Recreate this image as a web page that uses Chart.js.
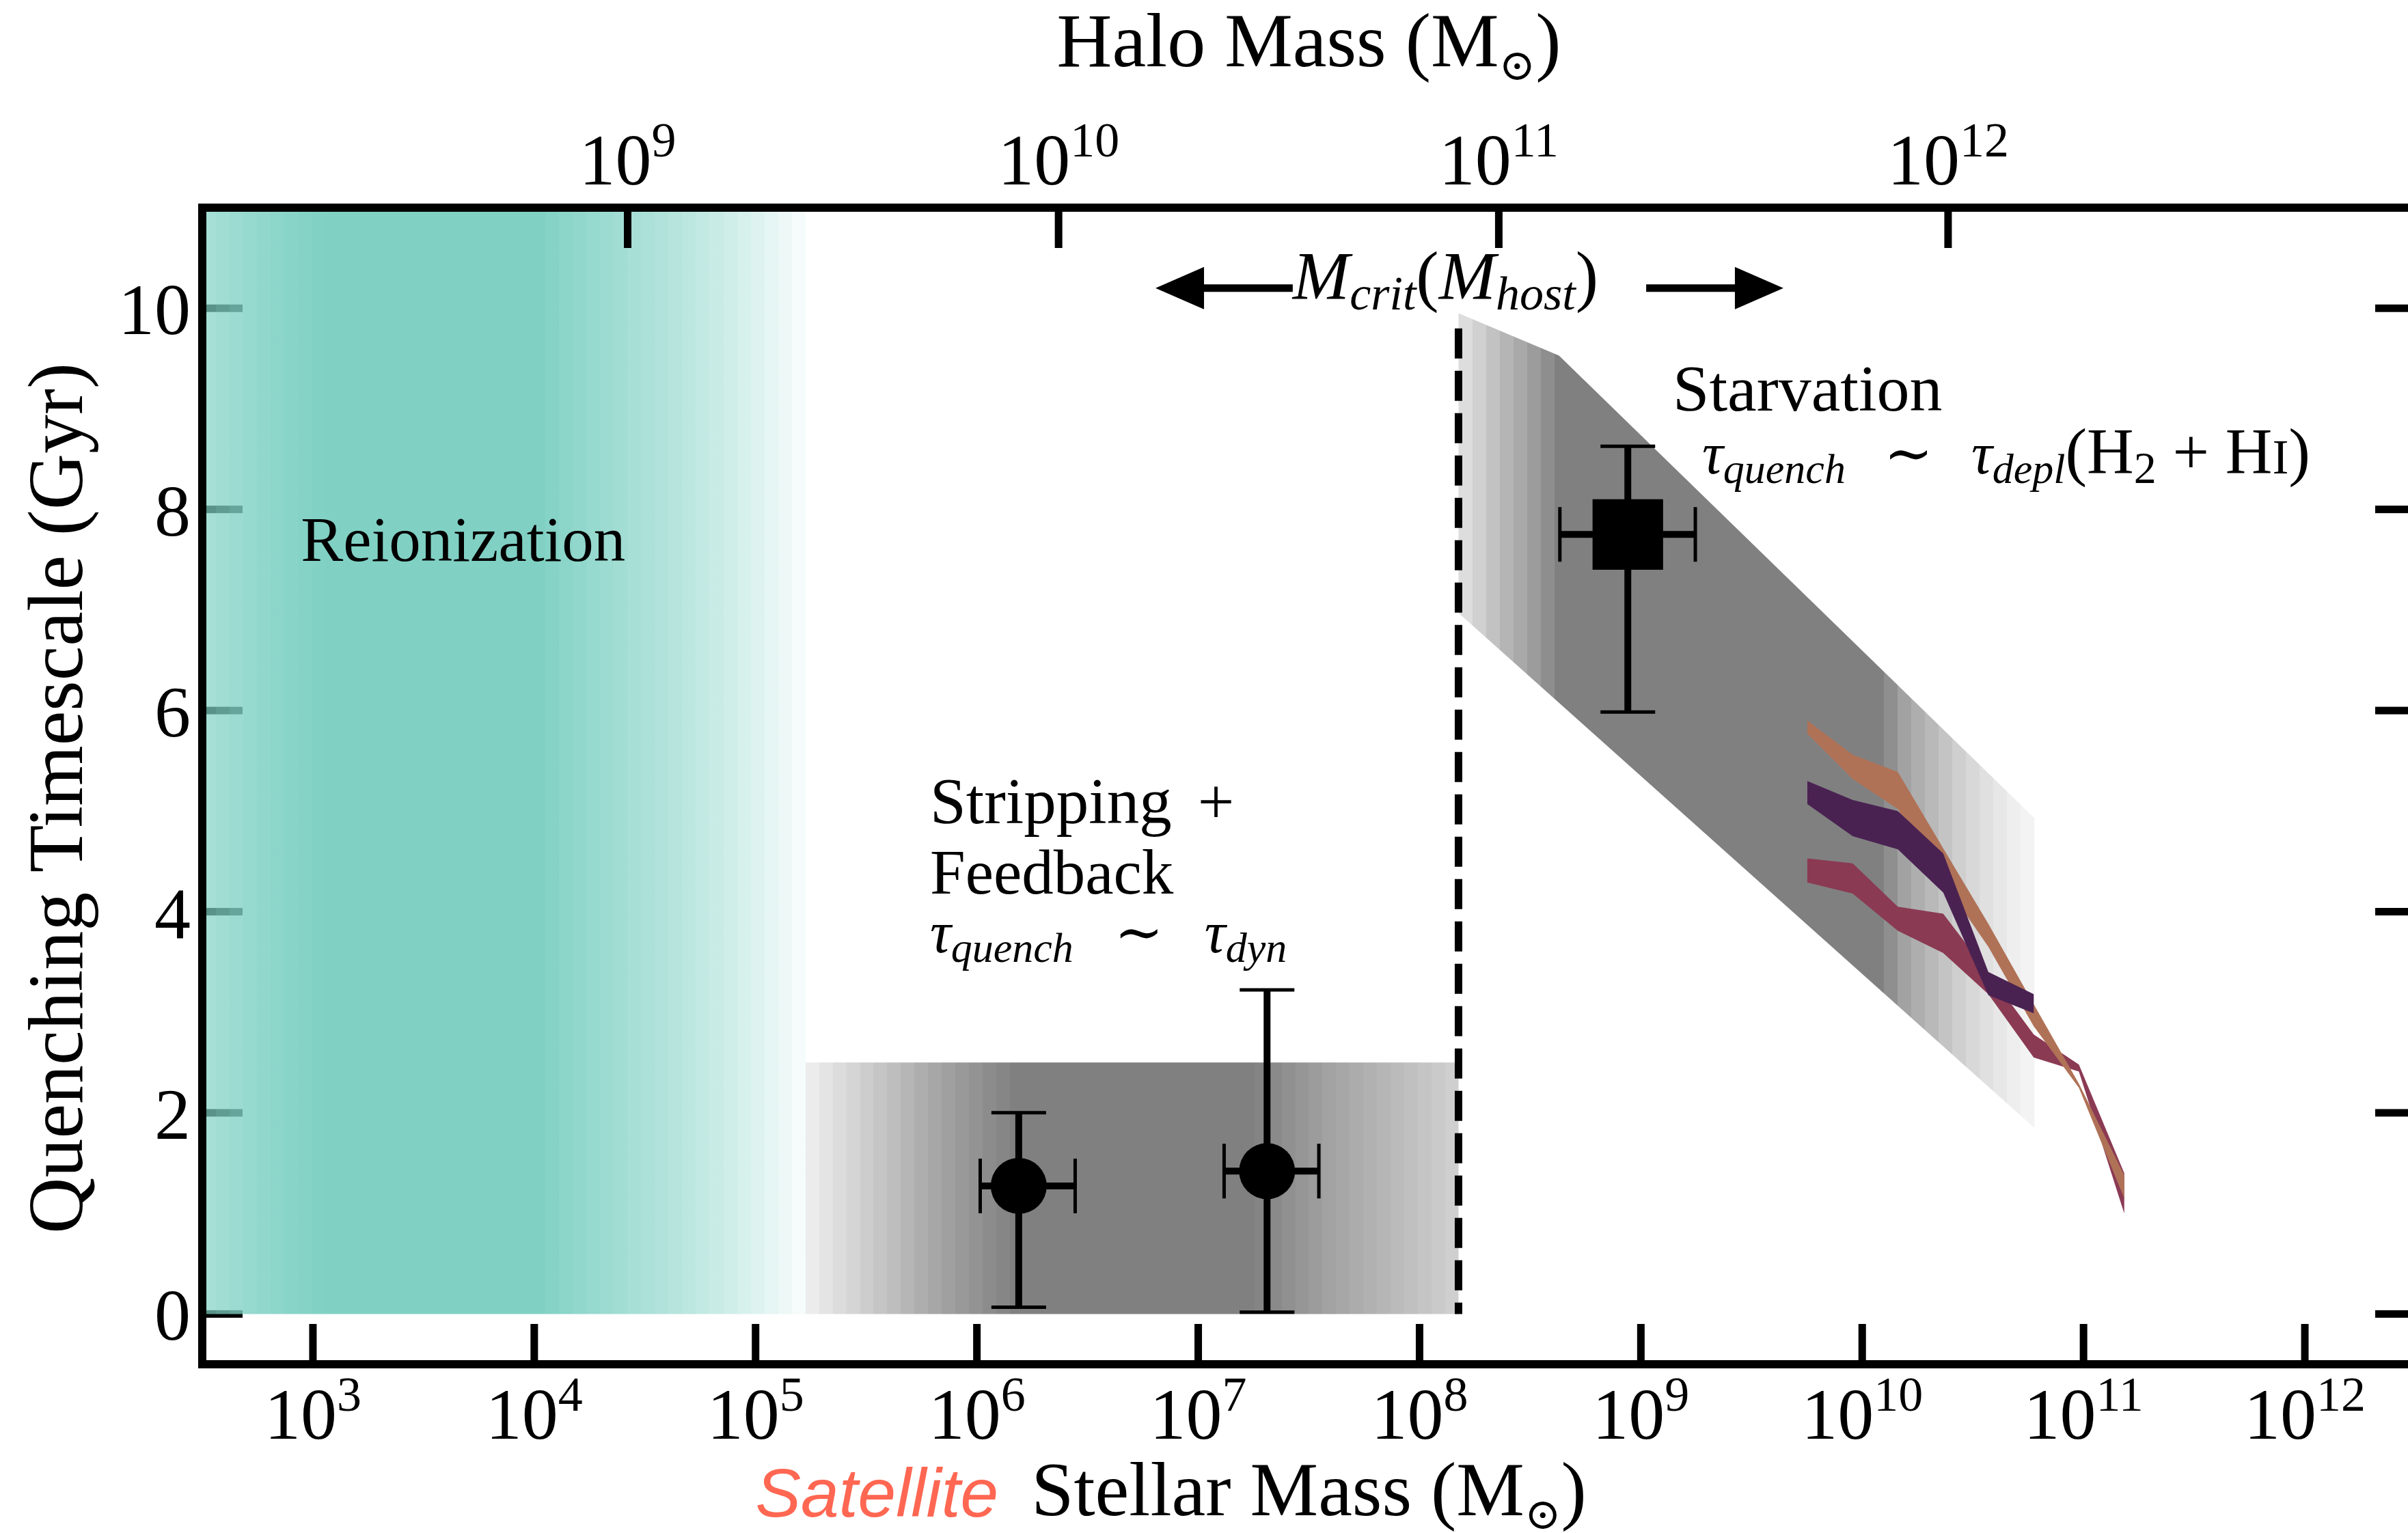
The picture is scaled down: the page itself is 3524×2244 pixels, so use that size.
<!DOCTYPE html>
<html>
<head>
<meta charset="utf-8">
<title>Quenching timescale vs satellite stellar mass</title>
<script src="https://cdn.jsdelivr.net/npm/chart.js@4.4.1/dist/chart.umd.min.js"></script>
<style>
  html, body { margin: 0; padding: 0; background: #fff; overflow: hidden; }
  #frame { width: 3524px; height: 2244px; overflow: hidden; position: relative; background: #fff; }
  #chart { display: block; }
</style>
</head>
<body>
<div id="frame"><canvas id="chart" width="3600" height="2244" style="width:3600px;height:2244px"></canvas></div>
<script>
// ---------------- data ----------------
// axis ticks
const stellarTickExp = [3, 4, 5, 6, 7, 8, 9, 10, 11, 12];
const timescaleTicks = [0, 2, 4, 6, 8, 10];
// halo-mass ticks on the top axis and the log stellar mass each one maps to
const haloTickExp = [9, 10, 11, 12];
const haloTickLogMstar = [4.422, 6.369, 8.358, 10.388];

// quenching regimes (log10 stellar mass, Gyr)
const reionizationLogM = [2.5, 5.226];
const strippingLogM = [5.226, 8.176];
const strippingTau = [0, 2.5];
const critLogM = 8.176;
const critLineTau = [9.8, 0];

const starvationUpperLogM = [8.176, 8.630, 10.778];
const starvationUpperTau = [9.95, 9.53, 4.93];
const starvationLowerLogM = [8.176, 10.778];
const starvationLowerTau = [6.97, 1.85];

// model quenching-timescale bands
const bandLogM = [9.752, 9.957, 10.161, 10.366, 10.570, 10.775, 10.979, 11.184];
const orangeHi = [5.90, 5.56, 5.39, 4.63, 3.88, 3.08, 2.29, 1.38];
const orangeLo = [5.77, 5.32, 5.02, 4.30, 3.65, 2.86, 2.25, 1.15];
const purpleHi = [5.30, 5.11, 5.00, 4.58, 3.40, 3.18];
const purpleLo = [5.07, 4.75, 4.62, 4.19, 3.17, 2.99];
const crimsonHi = [4.53, 4.48, 4.05, 3.98, 3.39, 2.78, 2.48, 1.40];
const crimsonLo = [4.29, 4.18, 3.81, 3.59, 3.18, 2.55, 2.41, 1.00];

// observed satellite populations
const obsMarker = ['circle', 'circle', 'square'];
const obsLogM   = [6.189, 7.311, 8.941];
const obsLogMLo = [6.015, 7.117, 8.634];
const obsLogMHi = [6.444, 7.545, 9.246];
const obsTau    = [1.273, 1.420, 7.751];
const obsTauLo  = [0.067, 0.018, 5.985];
const obsTauHi  = [2.002, 3.223, 8.627];

// ---------------- styling ----------------
const SERIF = '"Liberation Serif", "DejaVu Serif", serif';
const SANS = '"Liberation Sans", "DejaVu Sans", sans-serif';
const font = (size, style) => (style ? style + ' ' : '') + size + 'px ' + SERIF;

const X_MIN = Math.pow(10, 2.5), X_MAX = Math.pow(10, 12.5);
const Y_MIN = -0.5, Y_MAX = 11;
const TICK_LEN = 59, TICK_W = 11, SPINE_W = 12;

// colour ramps along log stellar mass
const tealAlphaStops = [[2.5, 0.68], [2.7, 0.82], [2.9, 0.93], [3.04, 1], [4.02, 1], [4.42, 0.71],
                        [4.61, 0.6], [4.81, 0.44], [5.01, 0.26], [5.226, 0.05]];
const strippingGrey = [[5.226, 240], [5.5, 205], [5.85, 162], [6.17, 128], [7.24, 128], [7.57, 160], [8.176, 210]];
const starvationGrey = [[8.176, 228], [8.35, 190], [8.5, 160], [8.64, 128], [10.08, 128], [10.2, 165],
                        [10.376, 196], [10.48, 214], [10.58, 226], [10.685, 238], [10.778, 246]];

function rampValue(stops, lm) {
  for (let i = 1; i < stops.length; i++) {
    if (lm <= stops[i][0]) {
      const [a, va] = stops[i - 1], [b, vb] = stops[i];
      return va + (vb - va) * (lm - a) / (b - a);
    }
  }
  return stops[stops.length - 1][1];
}

// banded horizontal gradient, built from the x scale so it follows the data
function steppedGradient(chart, stops, colorAt, step) {
  const xs = chart.scales.x;
  const p = lm => xs.getPixelForValue(Math.pow(10, lm));
  const lm0 = stops[0][0], lm1 = stops[stops.length - 1][0];
  const x0 = p(lm0), x1 = p(lm1);
  const g = chart.ctx.createLinearGradient(x0, 0, x1, 0);
  const n = Math.max(1, Math.round((lm1 - lm0) / step));
  for (let k = 0; k < n; k++) {
    const a = lm0 + (lm1 - lm0) * k / n, b = lm0 + (lm1 - lm0) * (k + 1) / n;
    const c = colorAt(rampValue(stops, (a + b) / 2));
    g.addColorStop(Math.max(0, Math.min(1, (p(a) - x0) / (x1 - x0))), c);
    g.addColorStop(Math.max(0, Math.min(1, (p(b) - x0) / (x1 - x0))), c);
  }
  return g;
}
const greyCol = v => { const c = Math.round(v); return `rgb(${c},${c},${c})`; };
const tealCol = a => `rgba(128,209,196,${a.toFixed(3)})`;

function rampFill(stops, colorAt) {
  return ctx => ctx.chart.chartArea ? steppedGradient(ctx.chart, stops, colorAt, 0.062) : 'rgba(0,0,0,0)';
}

// polygon: upper edge left->right, lower edge right->left
function polygon(upperLogM, upperTau, lowerLogM, lowerTau) {
  const up = upperLogM.map((m, i) => ({x: Math.pow(10, m), y: upperTau[i]}));
  const lo = lowerLogM.map((m, i) => ({x: Math.pow(10, m), y: lowerTau[i]})).reverse();
  return up.concat(lo);
}

function shapeDataset(data, color, order) {
  return {
    type: 'line', data, order,
    fill: 'shape', backgroundColor: color,
    borderWidth: 0, borderColor: 'rgba(0,0,0,0)',
    pointRadius: 0, tension: 0
  };
}

const points = kind => obsLogM
  .map((m, i) => ({x: Math.pow(10, m), y: obsTau[i], k: obsMarker[i]}))
  .filter(p => p.k === kind);

// ---------------- text helpers ----------------
function runsWidth(ctx, runs) {
  let w = 0;
  for (const r of runs) { ctx.font = r.font; w += (r.pad || 0) + ctx.measureText(r.text).width; }
  return w;
}
function drawRuns(ctx, x, y, runs, align) {
  let cx = x;
  if (align === 'center') cx -= runsWidth(ctx, runs) / 2;
  if (align === 'right') cx -= runsWidth(ctx, runs);
  ctx.textAlign = 'left';
  ctx.textBaseline = 'alphabetic';
  for (const r of runs) {
    ctx.font = r.font;
    ctx.fillStyle = r.color || '#000';
    cx += r.pad || 0;
    ctx.fillText(r.text, cx, y + (r.dy || 0));
    cx += ctx.measureText(r.text).width;
  }
}
const powerLabel = e => [{text: '10', font: font(106)}, {text: String(e), font: font(72), dy: -41}];
const tauRun = sub => [
  {text: 'τ', font: font(86, 'italic')},
  {text: sub, font: font(62, 'italic'), dy: 14}
];

// ---------------- decorations ----------------
const decorations = {
  id: 'decorations',
  beforeDatasetsDraw(chart) {
    const {ctx, chartArea: a, scales: {y}} = chart;
    ctx.save();
    ctx.fillStyle = '#000';
    // left-hand ticks sit beneath the shaded regions
    for (const t of y.ticks) {
      const py = y.getPixelForValue(t.value);
      ctx.fillRect(a.left, py - TICK_W / 2, TICK_LEN, TICK_W);
    }
    ctx.restore();
  },
  afterDatasetsDraw(chart) {
    const {ctx, chartArea: a, scales: {x, x2, y, y2}} = chart;
    const X = lm => x.getPixelForValue(Math.pow(10, lm));
    const Y = v => y.getPixelForValue(v);
    ctx.save();

    // error bars
    ctx.strokeStyle = '#000';
    ctx.lineCap = 'butt';
    obsLogM.forEach((lm, i) => {
      const px = X(lm), py = Y(obsTau[i]);
      const xl = X(obsLogMLo[i]), xh = X(obsLogMHi[i]);
      const yl = Y(obsTauLo[i]), yh = Y(obsTauHi[i]);
      ctx.lineWidth = 10;
      ctx.beginPath();
      ctx.moveTo(xl, py); ctx.lineTo(xh, py);
      ctx.moveTo(px, yl); ctx.lineTo(px, yh);
      ctx.stroke();
      ctx.lineWidth = 5;
      ctx.beginPath();
      ctx.moveTo(xl, py - 40); ctx.lineTo(xl, py + 40);
      ctx.moveTo(xh, py - 40); ctx.lineTo(xh, py + 40);
      ctx.moveTo(px - 40, yl); ctx.lineTo(px + 40, yl);
      ctx.moveTo(px - 40, yh); ctx.lineTo(px + 40, yh);
      ctx.stroke();
    });

    // M_crit arrows
    const arrow = (fromLm, toLm, tau) => {
      const x0 = X(fromLm), x1 = X(toLm), py = Y(tau);
      const dir = Math.sign(x1 - x0), head = 71, half = 31, shaft = 5.5;
      ctx.beginPath();
      ctx.moveTo(x0, py - shaft);
      ctx.lineTo(x1 - dir * head, py - shaft);
      ctx.lineTo(x1 - dir * head, py - half);
      ctx.lineTo(x1, py);
      ctx.lineTo(x1 - dir * head, py + half);
      ctx.lineTo(x1 - dir * head, py + shaft);
      ctx.lineTo(x0, py + shaft);
      ctx.closePath();
      ctx.fillStyle = '#000';
      ctx.fill();
    };
    arrow(7.427, 6.807, 10.2);
    arrow(9.024, 9.644, 10.2);

    // tick marks (inward)
    ctx.fillStyle = '#000';
    for (const t of x.ticks) {
      const px = x.getPixelForValue(t.value);
      ctx.fillRect(px - TICK_W / 2, a.bottom - TICK_LEN, TICK_W, TICK_LEN);
    }
    for (const t of x2.ticks) {
      const px = x2.getPixelForValue(t.value);
      ctx.fillRect(px - TICK_W / 2, a.top, TICK_W, TICK_LEN);
    }
    for (const t of y2.ticks) {
      const py = y2.getPixelForValue(t.value);
      ctx.fillRect(a.right - TICK_LEN, py - TICK_W / 2, TICK_LEN, TICK_W);
    }

    // frame
    ctx.lineWidth = SPINE_W;
    ctx.lineJoin = 'miter';
    ctx.strokeStyle = '#000';
    ctx.strokeRect(a.left, a.top, a.right - a.left, a.bottom - a.top);

    // tick labels
    stellarTickExp.forEach(e => drawRuns(ctx, X(e), a.bottom + 109, powerLabel(e), 'center'));
    haloTickExp.forEach((e, i) => drawRuns(ctx, X(haloTickLogMstar[i]), a.top - 34, powerLabel(e), 'center'));
    timescaleTicks.forEach(v => drawRuns(ctx, a.left - 17, Y(v) + 38, [{text: String(v), font: font(106)}], 'right'));

    // axis titles
    const midX = (a.left + a.right) / 2;
    drawRuns(ctx, midX, a.top - 207, [
      {text: 'Halo Mass (M', font: font(112)},
      {text: '⊙', font: font(64), dy: 20},
      {text: ')', font: font(112)}
    ], 'center');
    const stellarRuns = [
      {text: 'Stellar Mass (M', font: font(112)},
      {text: '⊙', font: font(64), dy: 20},
      {text: ')', font: font(112)}
    ];
    const sw = runsWidth(ctx, stellarRuns);
    drawRuns(ctx, midX, a.bottom + 221, stellarRuns, 'center');
    drawRuns(ctx, midX - sw / 2 - 48, a.bottom + 223,
      [{text: 'Satellite', font: 'italic 100px ' + SANS, color: '#ff6752'}], 'right');

    ctx.save();
    ctx.translate(a.left - 176, (a.top + a.bottom) / 2 + 18);
    ctx.rotate(-Math.PI / 2);
    drawRuns(ctx, 0, 0, [{text: 'Quenching Timescale (Gyr)', font: font(114)}], 'center');
    ctx.restore();

    // regime annotations
    drawRuns(ctx, X(2.945), Y(7.49), [{text: 'Reionization', font: font(93)}]);
    drawRuns(ctx, X(5.788), Y(4.88), [
      {text: 'Stripping', font: font(95)},
      {text: '+', font: font(95), pad: 38}
    ]);
    drawRuns(ctx, X(5.788), Y(4.18), [{text: 'Feedback', font: font(93)}]);
    drawRuns(ctx, X(5.788), Y(3.596), [
      ...tauRun('quench'),
      {text: '∼', font: font(86), pad: 60},
      {text: 'τ', font: font(86, 'italic'), pad: 60},
      {text: 'dyn', font: font(62, 'italic'), dy: 14}
    ]);
    drawRuns(ctx, X(9.144), Y(8.983), [{text: 'Starvation', font: font(96)}]);
    drawRuns(ctx, X(9.277), Y(8.358), [
      ...tauRun('quench'),
      {text: '∼', font: font(86), pad: 56},
      {text: 'τ', font: font(86, 'italic'), pad: 56},
      {text: 'depl', font: font(62, 'italic'), dy: 14},
      {text: '(H', font: font(95)},
      {text: '2', font: font(66), dy: 14},
      {text: ' + H', font: font(95)},
      {text: 'I', font: font(72)},
      {text: ')', font: font(95)}
    ]);
    drawRuns(ctx, X(7.427), Y(10.099), [
      {text: 'M', font: font(100, 'italic')},
      {text: 'crit', font: font(70, 'italic'), dy: 16},
      {text: '(', font: font(100)},
      {text: 'M', font: font(100, 'italic')},
      {text: 'host', font: font(70, 'italic'), dy: 16},
      {text: ')', font: font(100)}
    ]);

    ctx.restore();
  }
};

// ---------------- chart ----------------
const fixedSize = (prop, v) => s => { s[prop] = v; };
const hiddenAxis = extra => Object.assign({
  grid: {display: false},
  border: {display: false},
  ticks: {display: false}
}, extra);

new Chart(document.getElementById('chart'), {
  type: 'line',
  data: {
    datasets: [
      Object.assign(shapeDataset(polygon(reionizationLogM, [Y_MAX, Y_MAX], reionizationLogM, [0, 0]),
        rampFill(tealAlphaStops, tealCol), 10), {label: 'Reionization'}),
      Object.assign(shapeDataset(polygon(strippingLogM, [strippingTau[1], strippingTau[1]], strippingLogM, [strippingTau[0], strippingTau[0]]),
        rampFill(strippingGrey, greyCol), 9), {label: 'Stripping + Feedback'}),
      Object.assign(shapeDataset(polygon(starvationUpperLogM, starvationUpperTau, starvationLowerLogM, starvationLowerTau),
        rampFill(starvationGrey, greyCol), 8), {label: 'Starvation'}),
      Object.assign(shapeDataset(polygon(bandLogM, crimsonHi, bandLogM, crimsonLo), '#8b3a54', 7), {label: 'model C'}),
      Object.assign(shapeDataset(polygon(bandLogM, orangeHi, bandLogM, orangeLo), '#b07257', 6), {label: 'model A'}),
      Object.assign(shapeDataset(polygon(bandLogM.slice(0, purpleHi.length), purpleHi,
        bandLogM.slice(0, purpleLo.length), purpleLo), '#4a2252', 5), {label: 'model B'}),
      {
        type: 'line', label: 'M_crit', order: 4,
        data: critLineTau.map(t => ({x: Math.pow(10, critLogM), y: t})),
        borderColor: '#000', borderWidth: 11, borderDash: [44, 18], borderCapStyle: 'butt',
        pointRadius: 0, fill: false
      },
      {
        type: 'line', label: 'dynamical', order: 1, showLine: false,
        data: points('circle'),
        pointStyle: 'circle', pointRadius: 41,
        pointBackgroundColor: '#000', pointBorderWidth: 0, pointBorderColor: 'rgba(0,0,0,0)'
      },
      {
        type: 'line', label: 'depletion', order: 1, showLine: false,
        data: points('square'),
        pointStyle: 'rect', pointRadius: 73,
        pointBackgroundColor: '#000', pointBorderWidth: 0, pointBorderColor: 'rgba(0,0,0,0)'
      }
    ]
  },
  options: {
    responsive: false,
    animation: false,
    devicePixelRatio: 1,
    events: [],
    layout: {padding: 0, autoPadding: false},
    plugins: {legend: {display: false}, tooltip: {enabled: false}, title: {display: false}},
    scales: {
      x: hiddenAxis({
        type: 'logarithmic', position: 'bottom', min: X_MIN, max: X_MAX,
        afterBuildTicks: s => { s.ticks = stellarTickExp.map(e => ({value: Math.pow(10, e)})); },
        afterFit: fixedSize('height', 247)
      }),
      x2: hiddenAxis({
        type: 'logarithmic', position: 'top', min: X_MIN, max: X_MAX,
        afterBuildTicks: s => { s.ticks = haloTickLogMstar.map(l => ({value: Math.pow(10, l)})); },
        afterFit: fixedSize('height', 304)
      }),
      y: hiddenAxis({
        type: 'linear', position: 'left', min: Y_MIN, max: Y_MAX,
        afterBuildTicks: s => { s.ticks = timescaleTicks.map(v => ({value: v})); },
        afterFit: fixedSize('width', 296)
      }),
      y2: hiddenAxis({
        type: 'linear', position: 'right', min: Y_MIN, max: Y_MAX,
        afterBuildTicks: s => { s.ticks = timescaleTicks.map(v => ({value: v})); },
        afterFit: fixedSize('width', 65)
      })
    }
  },
  plugins: [decorations]
});
</script>
</body>
</html>
